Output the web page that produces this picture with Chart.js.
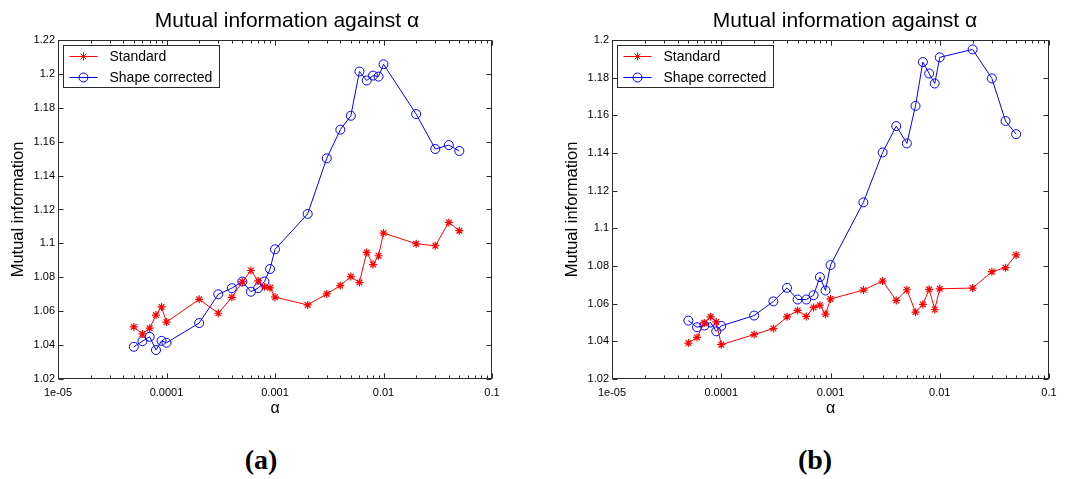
<!DOCTYPE html>
<html>
<head>
<meta charset="utf-8">
<script src="https://cdn.jsdelivr.net/npm/chart.js@4.4.1/dist/chart.umd.min.js"></script>
<style>
body { margin: 0; background: #fff; width: 1066px; height: 479px; position: relative; overflow: hidden; }
.panel { position: absolute; top: 0; width: 533px; height: 430px; }
.ttl { position: absolute; top: 8px; width: 400px; text-align: center; line-height: 21px; white-space: nowrap;
       font: 21px 'Liberation Sans', Arial, Helvetica, sans-serif; color: #000; }
.cap { position: absolute; top: 444px; width: 80px; text-align: center; line-height: 28px;
       font: bold 28px 'Liberation Serif', 'DejaVu Serif', serif; color: #000; }
</style>
</head>
<body>
<div class="panel" style="left:0"><canvas id="chartA" width="533" height="430"></canvas></div>
<div class="panel" style="left:533px"><canvas id="chartB" width="533" height="430"></canvas></div>
<div class="ttl" style="left:87px">Mutual information against &alpha;</div>
<div class="ttl" style="left:645px">Mutual information against &alpha;</div>
<div class="cap" style="left:221px">(a)</div>
<div class="cap" style="left:775px">(b)</div>
<script>
// alpha values shared by both panels
const alphas = [5e-5, 6e-5, 7e-5, 8e-5, 9e-5, 1e-4, 2e-4, 3e-4, 4e-4, 5e-4, 6e-4, 7e-4, 8e-4, 9e-4,
    1e-3, 2e-3, 3e-3, 4e-3, 5e-3, 6e-3, 7e-3, 8e-3, 9e-3, 1e-2, 2e-2, 3e-2, 4e-2, 5e-2];

// panel (a)
const standardA = [1.0507, 1.0466, 1.0500, 1.0577, 1.0625, 1.0536, 1.0670, 1.0588, 1.0682, 1.0773, 1.0840, 1.0779, 1.0744, 1.0738,
    1.0683, 1.0637, 1.0702, 1.0751, 1.0804, 1.0769, 1.0947, 1.0875, 1.0927, 1.1061, 1.0998, 1.0986, 1.1124, 1.1075];
const shapeA = [1.0390, 1.0423, 1.0449, 1.0371, 1.0425, 1.0414, 1.0530, 1.0700, 1.0736, 1.0775, 1.0715, 1.0736, 1.0775, 1.0849,
    1.0965, 1.1174, 1.1502, 1.1671, 1.1753, 1.2014, 1.1961, 1.1990, 1.1984, 1.2057, 1.1763, 1.1557, 1.1580, 1.1545];

// panel (b)
const standardB = [1.0391, 1.0421, 1.0498, 1.0530, 1.0503, 1.0382, 1.0436, 1.0468, 1.0530, 1.0564, 1.0532, 1.0580, 1.0592, 1.0544,
    1.0625, 1.0672, 1.0720, 1.0617, 1.0674, 1.0555, 1.0596, 1.0676, 1.0569, 1.0679, 1.0683, 1.0770, 1.0791, 1.0859];
const shapeB = [1.0510, 1.0475, 1.0484, 1.0500, 1.0453, 1.0482, 1.0537, 1.0612, 1.0684, 1.0622, 1.0622, 1.0645, 1.0741, 1.0670,
    1.0805, 1.1138, 1.1403, 1.1543, 1.1451, 1.1650, 1.1883, 1.1822, 1.1769, 1.1908, 1.1950, 1.1796, 1.1570, 1.1500];

// ticks
const xTickValues = [1e-5, 1e-4, 1e-3, 1e-2, 1e-1];
const xTickLabels = ['1e-05', '0.0001', '0.001', '0.01', '0.1'];
const yTicksA = ['1.02', '1.04', '1.06', '1.08', '1.1', '1.12', '1.14', '1.16', '1.18', '1.2', '1.22'];
const yTicksB = ['1.02', '1.04', '1.06', '1.08', '1.1', '1.12', '1.14', '1.16', '1.18', '1.2'];

const seriesNames = ['Standard', 'Shape corrected'];
const RED = '#ff0000';
const BLUE = '#0000ff';
const FONT = "'Liberation Sans', Arial, Helvetica, sans-serif";

// box, inward ticks (matlab style) and the legend
const framePlugin = {
    id: 'frame',
    afterDraw(chart) {
        const ctx = chart.ctx;
        const a = chart.chartArea;
        const x = chart.scales.x, y = chart.scales.y;
        const L = Math.round(a.left) + 0.5, R = Math.round(a.right) - 0.5;
        const T = Math.round(a.top) + 0.5, B = Math.round(a.bottom) - 0.5;
        ctx.save();
        ctx.strokeStyle = '#2b2b2b';
        ctx.lineWidth = 1;
        ctx.strokeRect(L, T, R - L, B - T);
        ctx.beginPath();
        y.ticks.forEach(t => {
            const py = Math.round(y.getPixelForValue(t.value)) + 0.5;
            ctx.moveTo(L, py); ctx.lineTo(L + 5, py);
            ctx.moveTo(R, py); ctx.lineTo(R - 5, py);
        });
        for (let d = 0; d < xTickValues.length - 1; d++) {
            for (let m = 1; m <= 10; m++) {
                const px = Math.round(x.getPixelForValue(m * xTickValues[d])) + 0.5;
                const len = (m === 1 || m === 10) ? 5 : 3;
                ctx.moveTo(px, B); ctx.lineTo(px, B - len);
                ctx.moveTo(px, T); ctx.lineTo(px, T + len);
            }
        }
        ctx.stroke();

        // legend box
        const lx = L + 5, ly = T + 5, lw = 156, lh = 42;
        ctx.fillStyle = '#fff';
        ctx.fillRect(lx, ly, lw, lh);
        ctx.strokeStyle = '#2b2b2b';
        ctx.strokeRect(lx, ly, lw, lh);
        chart.data.datasets.forEach((ds, i) => {
            const yy = ly + 11 + i * 21;
            ctx.strokeStyle = ds.borderColor;
            ctx.lineWidth = 1;
            ctx.beginPath();
            ctx.moveTo(lx + 6, yy); ctx.lineTo(lx + 34, yy);
            ctx.stroke();
            ctx.fillStyle = 'rgba(0,0,0,0)';
            Chart.helpers.drawPoint(ctx, { pointStyle: ds.pointStyle, radius: ds.pointRadius, rotation: 0, borderWidth: 1 }, lx + 20, yy);
            ctx.fillStyle = '#000';
            ctx.font = '14px ' + FONT;
            ctx.textBaseline = 'middle';
            ctx.textAlign = 'left';
            ctx.fillText(ds.label, lx + 46, yy + 1);
        });
        ctx.restore();
    }
};

function makeChart(id, standard, shape, yTicks, padLeft, padRight) {
    const yMin = parseFloat(yTicks[0]);
    const yMax = parseFloat(yTicks[yTicks.length - 1]);
    return new Chart(document.getElementById(id), {
        type: 'line',
        data: {
            datasets: [{
                label: seriesNames[0],
                data: alphas.map((a, i) => ({ x: a, y: standard[i] })),
                borderColor: RED,
                backgroundColor: 'rgba(0,0,0,0)',
                borderWidth: 1,
                pointStyle: 'star',
                pointRadius: 4,
                pointBorderWidth: 1.2,
                tension: 0
            }, {
                label: seriesNames[1],
                data: alphas.map((a, i) => ({ x: a, y: shape[i] })),
                borderColor: BLUE,
                backgroundColor: 'rgba(0,0,0,0)',
                borderWidth: 1,
                pointStyle: 'circle',
                pointRadius: 4.5,
                pointBorderWidth: 1,
                tension: 0
            }]
        },
        options: {
            responsive: false,
            animation: false,
            devicePixelRatio: 1,
            layout: { padding: { left: padLeft, right: padRight, top: 40, bottom: 0 } },
            plugins: {
                legend: { display: false },
                tooltip: { enabled: false },
                title: { display: false }
            },
            scales: {
                x: {
                    type: 'logarithmic',
                    min: xTickValues[0],
                    max: xTickValues[xTickValues.length - 1],
                    afterBuildTicks: s => { s.ticks = xTickValues.map(v => ({ value: v })); },
                    afterFit: s => { s.height = 51; },
                    grid: { display: false, drawTicks: false, tickLength: 0 },
                    border: { display: false },
                    ticks: {
                        autoSkip: false,
                        maxRotation: 0,
                        padding: 7,
                        color: '#000',
                        font: { family: FONT, size: 11 },
                        callback: (v) => xTickLabels[xTickValues.indexOf(v)]
                    },
                    title: {
                        display: true,
                        text: '\u03b1',
                        color: '#000',
                        font: { family: FONT, size: 16 },
                        padding: { top: 12, bottom: 12 }
                    }
                },
                y: {
                    min: yMin,
                    max: yMax,
                    afterBuildTicks: s => { s.ticks = yTicks.map(v => ({ value: parseFloat(v) })); },
                    afterFit: s => { s.width = 58; },
                    grid: { display: false, drawTicks: false, tickLength: 0 },
                    border: { display: false },
                    ticks: {
                        padding: 3,
                        color: '#000',
                        font: { family: FONT, size: 11 },
                        callback: (v) => yTicks.find(t => parseFloat(t) === v)
                    },
                    title: {
                        display: true,
                        text: 'Mutual information',
                        color: '#000',
                        font: { family: FONT, size: 16.5 },
                        padding: { top: 9, bottom: 9 }
                    }
                }
            }
        },
        plugins: [framePlugin]
    });
}

makeChart('chartA', standardA, shapeA, yTicksA, 0, 41);
makeChart('chartB', standardB, shapeB, yTicksB, 21, 17);
</script>
</body>
</html>
